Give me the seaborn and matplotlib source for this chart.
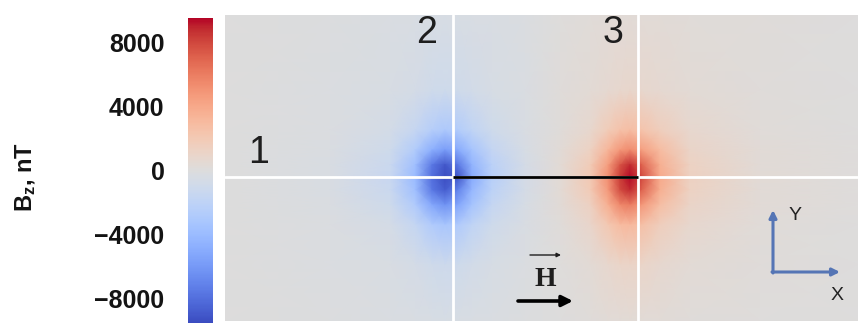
import numpy as np
import matplotlib
matplotlib.use("Agg")
import matplotlib.pyplot as plt
import seaborn as sns

# Sample grid (µm, origin at contact 2, y up) and measured Bz (nT)
x_um = [-228, -123, -63, -38, -21, -8, 5, 19, 39, 72, 107, 137, 155, 167, 177, 189, 207, 237, 307, 405]
y_um = [162, 87, 47, 27, 12, 0, -13, -28, -48, -88, -144]
bz_nT = [
    [0, -100, -250, -350, -400, -400, -400, -350, -300, -150, 100, 250, 300, 300, 300, 300, 300, 250, 150, 50],
    [0, -150, -400, -650, -900, -1000, -950, -750, -500, -250, 150, 400, 650, 800, 850, 800, 650, 400, 200, 50],
    [0, -200, -700, -1500, -2500, -2900, -2600, -1900, -1000, -350, 200, 800, 1800, 2500, 2800, 2400, 1600, 800, 250, 50],
    [0, -250, -1000, -2700, -4800, -5800, -5000, -3400, -1700, -500, 300, 1300, 3300, 4800, 5400, 4500, 2900, 1100, 300, 100],
    [0, -300, -1300, -3700, -7500, -9000, -7500, -4500, -2200, -600, 400, 1800, 4600, 7500, 8800, 7000, 3700, 1300, 350, 100],
    [0, -300, -1400, -4000, -8000, -9400, -9000, -5000, -2400, -600, 400, 2000, 5200, 8300, 9400, 7800, 4000, 1400, 400, 100],
    [0, -300, -1300, -3700, -7500, -8800, -7000, -4300, -2100, -600, 400, 1900, 4800, 7800, 8800, 7000, 3700, 1300, 350, 100],
    [0, -250, -1000, -2800, -5200, -6300, -5200, -3400, -1600, -500, 300, 1400, 3700, 5500, 6000, 4800, 2800, 1100, 300, 100],
    [0, -200, -650, -1600, -2800, -3200, -2800, -1900, -1000, -350, 200, 900, 2100, 2900, 3100, 2600, 1600, 750, 250, 50],
    [0, -150, -350, -650, -950, -1100, -1000, -750, -450, -200, 100, 400, 750, 1000, 1100, 1000, 700, 400, 200, 50],
    [0, -100, -250, -350, -400, -450, -400, -350, -250, -100, 50, 200, 300, 350, 400, 350, 300, 200, 100, 50],
]

# Contacts and their labels
contact_x = [0, 185]
contact_labels = ["1", "2", "3"]
label_pos = [(-194, 24), (-26, 144), (160, 144)]
cbar_ticks = [-8000, -4000, 0, 4000, 8000]
bz_limit = 9500

sns.set_theme(style="white")
plt.rcParams["font.family"] = ["Liberation Sans", "DejaVu Sans"]
plt.rcParams["mathtext.fontset"] = "custom"
plt.rcParams["mathtext.rm"] = "Liberation Sans"
plt.rcParams["mathtext.bf"] = "Liberation Sans:bold"

cmap = sns.color_palette("coolwarm", as_cmap=True)

W, H = 858, 325
fig = plt.figure(figsize=(W / 100, H / 100), dpi=100)
ax = fig.add_axes([225 / W, 4 / H, (858 - 225) / W, (321 - 15) / H])
cax = fig.add_axes([188 / W, 2 / H, 25 / W, 305 / H])

X, Y = np.meshgrid(x_um, y_um)
mesh = ax.pcolormesh(X, Y, np.array(bz_nT), shading="gouraud", cmap=cmap,
                     vmin=-bz_limit, vmax=bz_limit, rasterized=True)
ax.set_xlim(min(x_um), max(x_um))
ax.set_ylim(min(y_um), max(y_um))
ax.set_axis_off()

# Guide lines through the contacts
ax.axhline(0, color="white", lw=2, zorder=3)
for cx in contact_x:
    ax.axvline(cx, color="white", lw=2, zorder=3)
ax.plot(contact_x, [0, 0], color="black", lw=2, zorder=4, solid_capstyle="butt")

for lab, (lx, ly) in zip(contact_labels, label_pos):
    ax.text(lx, ly, lab, fontsize=27, ha="center", va="center", color="#1e1e1e", zorder=5)

# Field direction H
ax.text(92, -102, "H", fontsize=20, fontweight="bold", family="Liberation Serif",
        ha="center", va="center", color="#1e1e1e", zorder=5)
ax.annotate("", xy=(108, -78), xytext=(77, -78),
            arrowprops=dict(arrowstyle="-|>", color="#1e1e1e", lw=1.0,
                            mutation_scale=6, shrinkA=0, shrinkB=0), zorder=5)
ax.annotate("", xy=(120, -124), xytext=(65, -124),
            arrowprops=dict(arrowstyle="-|>", color="black", lw=2.6,
                            mutation_scale=16, shrinkA=0, shrinkB=0), zorder=5)

# Coordinate frame
frame_col = "#5575b5"
ax.annotate("", xy=(320, -33), xytext=(320, -96),
            arrowprops=dict(arrowstyle="-|>", color=frame_col, lw=2.2,
                            mutation_scale=11, shrinkA=0, shrinkB=0), zorder=5)
ax.annotate("", xy=(387, -95), xytext=(319, -95),
            arrowprops=dict(arrowstyle="-|>", color=frame_col, lw=2.2,
                            mutation_scale=11, shrinkA=0, shrinkB=0), zorder=5)
ax.text(342, -38, "Y", fontsize=14, ha="center", va="center", color="#222222", zorder=5)
ax.text(384, -119, "X", fontsize=14, ha="center", va="center", color="#222222", zorder=5)

# Colour bar
cb = fig.colorbar(mesh, cax=cax, ticks=cbar_ticks)
cb.outline.set_visible(False)
cax.yaxis.set_ticks_position("left")
cax.tick_params(length=0, pad=17, labelsize=18)
for t in cax.get_yticklabels():
    t.set_fontweight("bold")
    t.set_color("#141414")
fig.text(26 / W, (H - 177) / H, r"$\mathbf{B_z}$, nT", rotation=90, fontsize=17,
         fontweight="bold", ha="center", va="center", color="#141414")

fig.savefig("out.png", dpi=100)
